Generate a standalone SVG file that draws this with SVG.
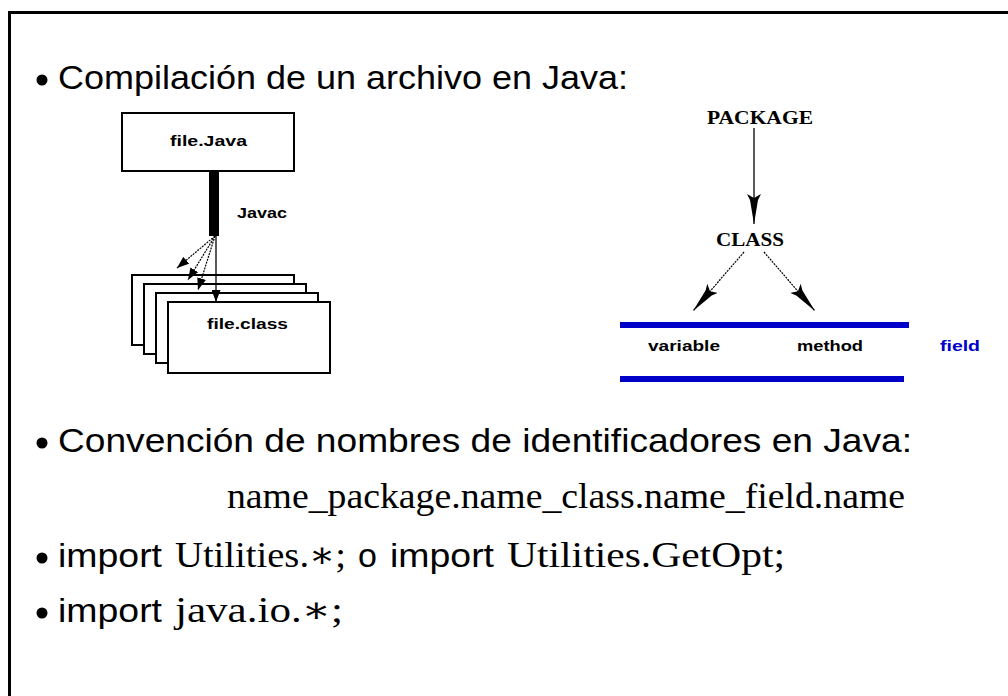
<svg xmlns="http://www.w3.org/2000/svg" width="1008" height="696" viewBox="0 0 1008 696">
<style>
.frame{stroke:#000;stroke-width:3;fill:none}
.sans{font-family:"Liberation Sans","DejaVu Sans",sans-serif;fill:#000;font-size:34px}
.serif{font-family:"Liberation Serif","DejaVu Serif",serif;fill:#000;font-size:36px}
.lbl{font-family:"Liberation Sans","DejaVu Sans",sans-serif;font-weight:bold;font-size:15px;fill:#000}
.cap{font-family:"Liberation Serif",serif;font-weight:bold;font-size:19px;fill:#000}
.box{fill:#fff;stroke:#000;stroke-width:2}
.thin{stroke:#000;stroke-width:1.3;fill:none}
.dot{stroke:#000;stroke-width:1.2;fill:none;stroke-dasharray:2 1}
.bar{fill:#0000c8}
</style>
<defs>
<marker id="ah" markerUnits="userSpaceOnUse" markerWidth="30" markerHeight="14" refX="30" refY="7" orient="auto" viewBox="0 0 30 14">
<path d="M0,0 L6,3 L30,7 L6,11 L0,14 L4,7 Z" fill="#000"/>
</marker>
<marker id="ahs" markerUnits="userSpaceOnUse" markerWidth="12" markerHeight="9" refX="12" refY="4.5" orient="auto" viewBox="0 0 12 9">
<path d="M0,0 L12,4.5 L0,9 Z" fill="#000"/>
</marker>
</defs>

<polyline class="frame" points="9.5,696 9.5,12.5 1008,12.5"/>

<g id="text-lines">
<circle cx="42" cy="80" r="5.5"/>
<text class="sans" x="58" y="89" textLength="570" lengthAdjust="spacingAndGlyphs">Compilación de un archivo en Java:</text>
<circle cx="42" cy="443" r="5.5"/>
<text class="sans" x="58" y="452" textLength="854" lengthAdjust="spacingAndGlyphs">Convención de nombres de identificadores en Java:</text>
<text class="serif" x="227" y="508" textLength="678" lengthAdjust="spacingAndGlyphs">name_package.name_class.name_field.name</text>
<circle cx="42" cy="558" r="5.5"/>
<text class="sans" x="58" y="567" textLength="104" lengthAdjust="spacingAndGlyphs">import</text>
<text class="serif" x="175" y="567" textLength="171" lengthAdjust="spacingAndGlyphs">Utilities.∗;</text>
<text class="sans" x="358" y="567">o</text>
<text class="sans" x="390" y="567" textLength="104" lengthAdjust="spacingAndGlyphs">import</text>
<text class="serif" x="507" y="567" textLength="278" lengthAdjust="spacingAndGlyphs">Utilities.GetOpt;</text>
<circle cx="42" cy="613" r="5.5"/>
<text class="sans" x="58" y="622" textLength="104" lengthAdjust="spacingAndGlyphs">import</text>
<text class="serif" x="175" y="622" textLength="168" lengthAdjust="spacingAndGlyphs">java.io.∗;</text>
</g>

<g id="node-filejava">
<rect class="box" x="122" y="113" width="172" height="58"/>
<text class="lbl" x="170" y="146" textLength="77" lengthAdjust="spacingAndGlyphs">file.Java</text>
</g>
<g id="node-javac">
<rect x="209" y="171" width="10" height="65" fill="#000"/>
<text class="lbl" x="237" y="218" textLength="50" lengthAdjust="spacingAndGlyphs">Javac</text>
</g>
<g id="node-fileclass">
<rect class="box" x="132" y="275" width="162" height="70"/>
<rect class="box" x="144" y="284" width="162" height="70"/>
<rect class="box" x="156" y="293" width="162" height="70"/>
<rect class="box" x="168" y="302" width="162" height="71"/>
<text class="lbl" x="207" y="329" textLength="81" lengthAdjust="spacingAndGlyphs">file.class</text>
</g>

<g id="node-package"><text class="cap" x="707" y="124" textLength="106" lengthAdjust="spacingAndGlyphs">PACKAGE</text></g>
<g id="node-class"><text class="cap" x="716" y="246" textLength="68" lengthAdjust="spacingAndGlyphs">CLASS</text></g>
<g id="node-field">
<rect class="bar" x="620" y="322" width="289" height="6"/>
<rect class="bar" x="620" y="376" width="284" height="6"/>
<text class="lbl" x="648" y="351" textLength="72" lengthAdjust="spacingAndGlyphs">variable</text>
<text class="lbl" x="797" y="351" textLength="66" lengthAdjust="spacingAndGlyphs">method</text>
<text class="lbl" x="940" y="351" textLength="40" lengthAdjust="spacingAndGlyphs" style="fill:#0000c8">field</text>
</g>

<g id="connectors">
<line class="dot" x1="215" y1="236" x2="177" y2="268" marker-end="url(#ahs)"/>
<line class="dot" x1="215" y1="236" x2="188" y2="280" marker-end="url(#ahs)"/>
<line class="dot" x1="215" y1="236" x2="198" y2="290" marker-end="url(#ahs)"/>
<line class="thin" x1="216" y1="236" x2="216" y2="302" marker-end="url(#ahs)"/>
<line class="thin" x1="754" y1="128" x2="754" y2="224" marker-end="url(#ah)"/>
<line class="dot" x1="744" y1="252" x2="693" y2="311" marker-end="url(#ah)"/>
<line class="dot" x1="764" y1="252" x2="815" y2="311" marker-end="url(#ah)"/>
</g>
</svg>
